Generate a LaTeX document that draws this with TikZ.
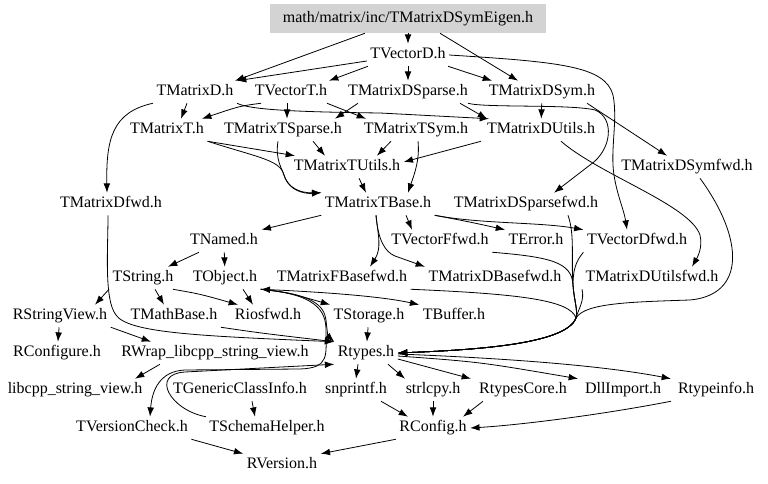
\documentclass[tikz,border=0pt]{standalone}
\usepackage{fontspec}
\setmainfont{Liberation Serif}
\usetikzlibrary{arrows.meta}
\newdimen\pxu \pxu=0.75pt
\definecolor{rootgray}{RGB}{211,211,211}
\begin{document}
\begin{tikzpicture}[x=0.75pt,y=-0.75pt,
  nd/.style={font=\fontsize{12}{14}\selectfont, inner xsep=2.5pt, inner ysep=0pt,
     text height=8.5pt, text depth=2.5pt, minimum height=16.5pt},
  rootnd/.style={nd, fill=rootgray, minimum width=207pt, minimum height=21.75pt},
  e/.style={-{Latex[length=7pt,width=5pt]}, line width=0.6pt},
  eb/.style={{Latex[length=7pt,width=5pt]}-{Latex[length=7pt,width=5pt]}, line width=0.6pt}]
\useasboundingbox (0,0) rectangle (768,484);
% nodes
\node[rootnd] (root) at (408,18.5) {math/matrix/inc/TMatrixDSymEigen.h};
\node[nd] (tvd) at (408,55) {TVectorD.h};
\node[nd] (tmd) at (195,92) {TMatrixD.h};
\node[nd] (tvt) at (291,92) {TVectorT.h};
\node[nd] (tmdsparse) at (408,92) {TMatrixDSparse.h};
\node[nd] (tmdsym) at (542,92) {TMatrixDSym.h};
\node[nd] (tmt) at (167,130) {TMatrixT.h};
\node[nd] (tmtsparse) at (283,130) {TMatrixTSparse.h};
\node[nd] (tmtsym) at (416,130) {TMatrixTSym.h};
\node[nd] (tmdutils) at (541,130) {TMatrixDUtils.h};
\node[nd] (tmtutils) at (347,167) {TMatrixTUtils.h};
\node[nd] (tmdsymfwd) at (687,167) {TMatrixDSymfwd.h};
\node[nd] (tmdfwd) at (111,204) {TMatrixDfwd.h};
\node[nd] (tmtbase) at (378,204) {TMatrixTBase.h};
\node[nd] (tmdsparsefwd) at (526,204) {TMatrixDSparsefwd.h};
\node[nd] (tnamed) at (224,241) {TNamed.h};
\node[nd] (tvffwd) at (440,241) {TVectorFfwd.h};
\node[nd] (terror) at (536,241) {TError.h};
\node[nd] (tvdfwd) at (637,241) {TVectorDfwd.h};
\node[nd] (tstring) at (143,278) {TString.h};
\node[nd] (tobject) at (225,278) {TObject.h};
\node[nd] (tmfbasefwd) at (342,278) {TMatrixFBasefwd.h};
\node[nd] (tmdbasefwd) at (495,278) {TMatrixDBasefwd.h};
\node[nd] (tmdutilsfwd) at (652,278) {TMatrixDUtilsfwd.h};
\node[nd] (rsv) at (60,316) {RStringView.h};
\node[nd] (tmathbase) at (174,316) {TMathBase.h};
\node[nd] (riosfwd) at (268,316) {Riosfwd.h};
\node[nd] (tstorage) at (369,316) {TStorage.h};
\node[nd] (tbuffer) at (454,316) {TBuffer.h};
\node[nd] (rconfigure) at (57,353) {RConfigure.h};
\node[nd] (rwrap) at (215,353) {RWrap\_libcpp\_string\_view.h};
\node[nd] (rtypes) at (366,353) {Rtypes.h};
\node[nd] (libcpp) at (75,390) {libcpp\_string\_view.h};
\node[nd] (tgci) at (240,390) {TGenericClassInfo.h};
\node[nd] (snprintf) at (356,390) {snprintf.h};
\node[nd] (strlcpy) at (433,390) {strlcpy.h};
\node[nd] (rtypescore) at (523,390) {RtypesCore.h};
\node[nd] (dllimport) at (623,390) {DllImport.h};
\node[nd] (rtypeinfo) at (716,390) {Rtypeinfo.h};
\node[nd] (tversioncheck) at (132,428) {TVersionCheck.h};
\node[nd] (tschemahelper) at (267,428) {TSchemaHelper.h};
\node[nd] (rconfig) at (433,428) {RConfig.h};
\node[nd] (rversion) at (282,465) {RVersion.h};
% edges
\draw[e] (root) -- (tvd);
\draw[e] ([xshift=-43\pxu]root.south) -- ([xshift=40\pxu]tmd.north);
\draw[e] ([yshift=-6\pxu]tvd.west) -- ([xshift=42\pxu]tmd.north);
\draw[e] ([xshift=-40\pxu]tvd.south) -- ([xshift=38\pxu]tvt.north);
\draw[e] (tvd) -- (tmdsparse);
\draw[e] ([xshift=40\pxu]tvd.south) -- ([xshift=-50\pxu]tmdsym.north);
\draw[e] ([xshift=32\pxu]root.south) -- ([xshift=-24\pxu]tmdsym.north);
\draw[e] (tvd.east) .. controls (560,62) and (605,66) .. (613,95) .. controls (618,120) and (610,150) .. (614,175) .. controls (617,195) and (624,210) .. ([xshift=-10\pxu]tvdfwd.north);
\draw[e] ([xshift=-8\pxu]tmd.south) -- ([xshift=14\pxu]tmt.north);
\draw[e] (tmd.south west) .. controls (112,112) and (106,140) .. ([xshift=-4\pxu]tmdfwd.north);
\draw[e] (tmd.south east) .. controls (250,110) and (300,112) .. (380,113) -- ([xshift=-52\pxu]tmdutils.north);
\draw[e] ([xshift=-30\pxu]tvt.south) .. controls (240,106) .. ([xshift=35\pxu]tmt.north);
\draw[e] ([xshift=-4\pxu]tvt.south) -- ([xshift=4\pxu]tmtsparse.north);
\draw[e] ([xshift=36\pxu]tvt.south) -- ([xshift=-50\pxu]tmtsym.north);
\draw[e] ([xshift=-50\pxu]tmdsparse.south) -- ([xshift=52\pxu]tmtsparse.north);
\draw[e] ([xshift=52\pxu]tmdsparse.south) -- ([xshift=-54\pxu]tmdutils.north);
\draw[e] ([xshift=60\pxu]tmdsparse.south) .. controls (485,108) and (570,104) .. (595,110) .. controls (615,118) and (612,150) .. (590,165) -- ([xshift=28\pxu]tmdsparsefwd.north);
\draw[e] (tmdsym) -- (tmdutils);
\draw[e] ([xshift=45\pxu]tmdsym.south) -- ([xshift=-20\pxu]tmdsymfwd.north);
\draw[e] ([xshift=20\pxu]tmdutils.south) .. controls (600,175) and (690,205) .. (700,235) .. controls (703,248) and (697,258) .. ([xshift=40\pxu]tmdutilsfwd.north);
\draw[e] ([xshift=-60\pxu]tmdutils.south) -- ([yshift=5\pxu]tmtutils.east);
\draw[e] (tmt.south east) -- ([xshift=-52\pxu]tmtutils.north);
\draw[e] (tmt.south east) .. controls (260,158) and (280,160) .. (284,175) .. controls (288,188) and (300,193) .. (tmtbase.north west);
\draw[e] ([xshift=-5\pxu]tmtsparse.south) .. controls (275,160) and (282,168) .. (285,178) .. controls (290,190) and (303,194) .. (tmtbase.north west);
\draw[e] ([xshift=30\pxu]tmtsparse.south) -- ([xshift=-22\pxu]tmtutils.north);
\draw[e] ([xshift=-25\pxu]tmtsym.south) -- ([xshift=30\pxu]tmtutils.north);
\draw[e] ([xshift=2\pxu]tmtsym.south) .. controls (420,160) and (414,175) .. ([xshift=30\pxu]tmtbase.north);
\draw[e] ([xshift=12\pxu]tmtutils.south) -- ([xshift=-12\pxu]tmtbase.north);
\draw[e] (tmtbase.south west) -- (tnamed.north east);
\draw[e] ([xshift=28\pxu]tmtbase.south) -- ([xshift=-28\pxu]tvffwd.north);
\draw[e] (tmtbase.south east) .. controls (470,222) .. (terror.north west);
\draw[e] (tmtbase.south east) .. controls (480,224) and (540,222) .. (tvdfwd.north west);
\draw[e] ([xshift=-2\pxu]tmtbase.south) .. controls (378,235) and (382,248) .. ([xshift=28\pxu]tmfbasefwd.north);
\draw[e] ([xshift=-2\pxu]tmtbase.south) .. controls (378,240) and (385,252) .. (395,256) -- (tmdbasefwd.north west);
% bundle into Rtypes.h
\draw[e] (tvffwd.south east) .. controls (550,257) and (572,262) .. (573,285) .. controls (574,300) and (578,310) .. (576,318) .. controls (566,345) and (470,350) .. (rtypes.east);
\draw[e] (tvdfwd.south west) .. controls (575,262) and (573,272) .. (573,285) .. controls (574,300) and (578,310) .. (576,318) .. controls (566,345) and (470,350) .. (rtypes.east);
\draw[e] ([xshift=42\pxu]tmdsparsefwd.south) .. controls (575,235) and (571,260) .. (573,285) .. controls (574,300) and (578,310) .. (576,318) .. controls (566,345) and (470,350) .. (rtypes.east);
\draw[e] (tmfbasefwd.south east) .. controls (520,294) and (570,300) .. (576,318) .. controls (566,345) and (470,350) .. (rtypes.east);
\draw[e] (tmdutilsfwd.south west) .. controls (585,300) and (578,310) .. (576,318) .. controls (566,345) and (470,350) .. (rtypes.east);
\draw[e] ([xshift=13\pxu]tmdsymfwd.south) .. controls (745,240) and (745,295) .. (690,300) .. controls (630,302) and (585,303) .. (576,318) .. controls (566,345) and (470,350) .. (rtypes.east);
% left part
\draw[e] ([xshift=-3\pxu]tmdfwd.south) .. controls (108,250) and (104,300) .. (116,315) .. controls (128,333) and (200,336) .. (rtypes.north west);
\draw[e] (rsv.south east) -- ([xshift=-64\pxu]rwrap.north);
\draw[e] (rsv) -- (rconfigure);
\draw[e] (tmathbase.south east) .. controls (260,333) .. (rtypes.north west);
\draw[e] (tstring.south west) -- ([xshift=35\pxu]rsv.north);
\draw[e] ([xshift=12\pxu]tstring.south) -- ([xshift=-10\pxu]tmathbase.north);
\draw[e] ([xshift=30\pxu]tstring.south) .. controls (200,294) .. ([xshift=-30\pxu]riosfwd.north);
\draw[e] ([xshift=-25\pxu]tnamed.south) -- ([xshift=25\pxu]tstring.north);
\draw[e] (tnamed) -- (tobject);
\draw[e] ([xshift=18\pxu]tobject.south) -- ([xshift=-15\pxu]riosfwd.north);
\draw[e] (tobject.south east) .. controls (290,293) .. (tstorage.north west);
\draw[eb] (tobject.south east) .. controls (320,292) and (380,296) .. (tbuffer.north west);
\draw[e] (tobject.south east) .. controls (312,294) and (324,305) .. (326,320) .. controls (327,330) and (328,336) .. (rtypes.north west);
\draw[e] (tobject.south east) .. controls (315,294) and (326,310) .. (326,330) .. controls (326,355) and (330,368) .. (300,369) -- (185,370) .. controls (160,371) and (152,390) .. ([xshift=18\pxu]tversioncheck.north);
\draw[e] (tschemahelper.north west) .. controls (170,410) and (150,374) .. (185,372) -- (rtypes.south west);
\draw[e] (tstorage) -- (rtypes);
\draw[e] ([xshift=-55\pxu]rwrap.south) -- ([xshift=60\pxu]libcpp.north);
\draw[e] ([xshift=-8\pxu]rtypes.south) -- (snprintf.north);
\draw[e] ([xshift=22\pxu]rtypes.south) -- ([xshift=-28\pxu]strlcpy.north);
\draw[e] ([yshift=-6\pxu]rtypes.east) -- ([xshift=-52\pxu]rtypescore.north);
\draw[e] ([yshift=-3\pxu]rtypes.east) .. controls (480,362) .. ([xshift=-45\pxu]dllimport.north);
\draw[e] ([yshift=-1\pxu]rtypes.east) .. controls (500,358) and (600,365) .. ([xshift=-45\pxu]rtypeinfo.north);
\draw[e] ([xshift=-45\pxu]rtypeinfo.south) .. controls (600,415) and (520,425) .. (rconfig.east);
\draw[e] ([xshift=25\pxu]snprintf.south) -- ([xshift=-25\pxu]rconfig.north);
\draw[e] (strlcpy) -- (rconfig);
\draw[e] ([xshift=-40\pxu]rtypescore.south) -- ([xshift=30\pxu]rconfig.north);
\draw[e] (rconfig.south west) -- (rversion.north east);
\draw[e] (tversioncheck.south east) -- (rversion.north west);
\draw[e] ([xshift=12\pxu]tgci.south) -- ([xshift=-12\pxu]tschemahelper.north);
\end{tikzpicture}
\end{document}
